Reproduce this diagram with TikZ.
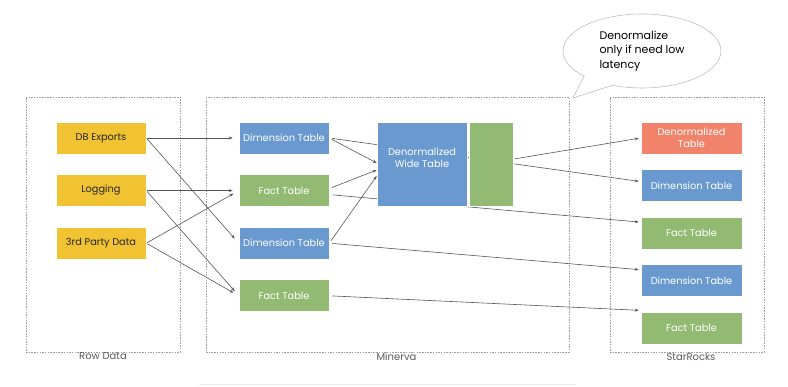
\documentclass[tikz,border=0pt]{standalone}
\usepackage{fontspec}
\setmainfont{Poppins}
\usetikzlibrary{shapes.callouts, arrows.meta, positioning, backgrounds}
\definecolor{rawyellow}{HTML}{F1C232}
\definecolor{dimblue}{HTML}{6A99D0}
\definecolor{factgreen}{HTML}{93BA72}
\definecolor{widered}{HTML}{F0836A}
\definecolor{linegray}{HTML}{555555}
\definecolor{groupgray}{HTML}{9E9E9E}

\begin{document}
\begin{tikzpicture}[
    x=1pt, y=1pt,
    node distance=20pt,
    block/.style={rectangle, draw=white, line width=0.6pt, fill=#1, minimum height=32pt, minimum width=90pt, align=center, text=white, font=\fontsize{9.8}{12}\selectfont},
    block/.default=dimblue,
    group/.style={rectangle, draw=groupgray, line width=0.5pt, dash pattern=on 1.5pt off 1.2pt},
    arrow/.style={-{Stealth[length=4pt, width=3pt]}, linegray, line width=0.6pt, shorten <=1pt, shorten >=2pt},
    grouplabel/.style={font=\fontsize{10}{11}\selectfont, text=black!65, inner sep=0.5pt}
]
\useasboundingbox (0,0) rectangle (788,387);

% Groups
\node[group, minimum width=154pt, minimum height=255pt] (rowgroup) at (103,162.5) {};
\node[group, minimum width=363pt, minimum height=255pt] (minervagroup) at (387.5,162.5) {};
\node[group, minimum width=154pt, minimum height=255pt] (srgroup) at (687,162.5) {};

\node[grouplabel, below=0pt of rowgroup] {Row Data};
\node[grouplabel, below=0pt of minervagroup, xshift=9pt] {Minerva};
\node[grouplabel, below=0pt of srgroup, xshift=4pt] {StarRocks};

% Row data
\node[block=rawyellow, text=black!85] (db) at (101,249) {DB Exports};
\node[block=rawyellow, text=black!85, below=of db] (logging) {Logging};
\node[block=rawyellow, text=black!85, below=of logging] (party) {3rd Party Data};

% Minerva
\node[block] (dim1) at (284,249) {Dimension Table};
\node[block=factgreen, below=of dim1] (fact1) {Fact Table};
\node[block, below=of fact1] (dim2) {Dimension Table};
\node[block=factgreen, below=of dim2] (fact2) {Fact Table};

\node[block, minimum height=84pt] (wide) at (422,223) {Denormalized\\Wide Table\\~};
\node[block=factgreen, minimum width=44pt, minimum height=84pt, right=2pt of wide] (widefact) {};

% StarRocks
\node[block=widered, minimum width=101pt] (srwide) at (691.5,249) {Denormalized\\Table};
\node[block, minimum width=101pt, below=15pt of srwide] (srdim1) {Dimension Table};
\node[block=factgreen, minimum width=101pt, below=15pt of srdim1] (srfact1) {Fact Table};
\node[block, minimum width=101pt, below=15pt of srfact1] (srdim2) {Dimension Table};
\node[block=factgreen, minimum width=101pt, below=15pt of srdim2] (srfact2) {Fact Table};

% Note
\node[ellipse callout, draw=lightgray, fill=white, line width=0.6pt, minimum width=158pt, minimum height=74pt,
    callout absolute pointer={(573,289)}, callout pointer arc=25,
    align=left, font=\fontsize{11}{14.5}\selectfont] (note) at (642,336) {Denormalize\\only if need low\\latency};

% Arrows from row data
\draw[arrow, shorten >=6pt] (db.east) -- (dim1.west);
\draw[arrow, shorten >=6pt] (db.east) -- (dim2.west);
\draw[arrow, shorten >=6pt] (logging.east) -- (fact1.west);
\draw[arrow, shorten >=6pt] (logging.east) -- (fact2.west);
\draw[arrow, shorten >=6pt] (party.east) -- (fact1.west);
\draw[arrow, shorten >=6pt] (party.east) -- (fact2.west);

% Arrows into the wide table
\draw[arrow, shorten <=3pt, shorten >=0pt] (dim1.east) -- ([yshift=1pt]wide.west);
\draw[arrow, shorten <=3pt, shorten >=0pt] ([yshift=2pt]fact1.east) -- ([yshift=-6pt]wide.west);
\draw[arrow, shorten <=3pt, shorten >=0pt] (dim2.east) -- ([yshift=-12pt]wide.west);

% Arrows behind the wide table
\begin{scope}[on background layer]
\draw[arrow, shorten <=3pt] (dim1.east) -- ([yshift=4pt]srdim1.west);
\draw[arrow, shorten <=3pt] ([yshift=-4pt]fact1.east) -- ([yshift=11pt]srfact1.west);
\end{scope}

% Arrows to StarRocks
\draw[arrow] ([yshift=5pt]widefact.east) -- (srwide.west);
\draw[arrow, shorten <=3pt] (dim2.east) -- ([yshift=11pt]srdim2.west);
\draw[arrow, shorten <=3pt] (fact2.east) -- ([yshift=18pt]srfact2.west);

\draw[line width=1pt, color=black!7] (199,2) -- (576,2);

\end{tikzpicture}
\end{document}
